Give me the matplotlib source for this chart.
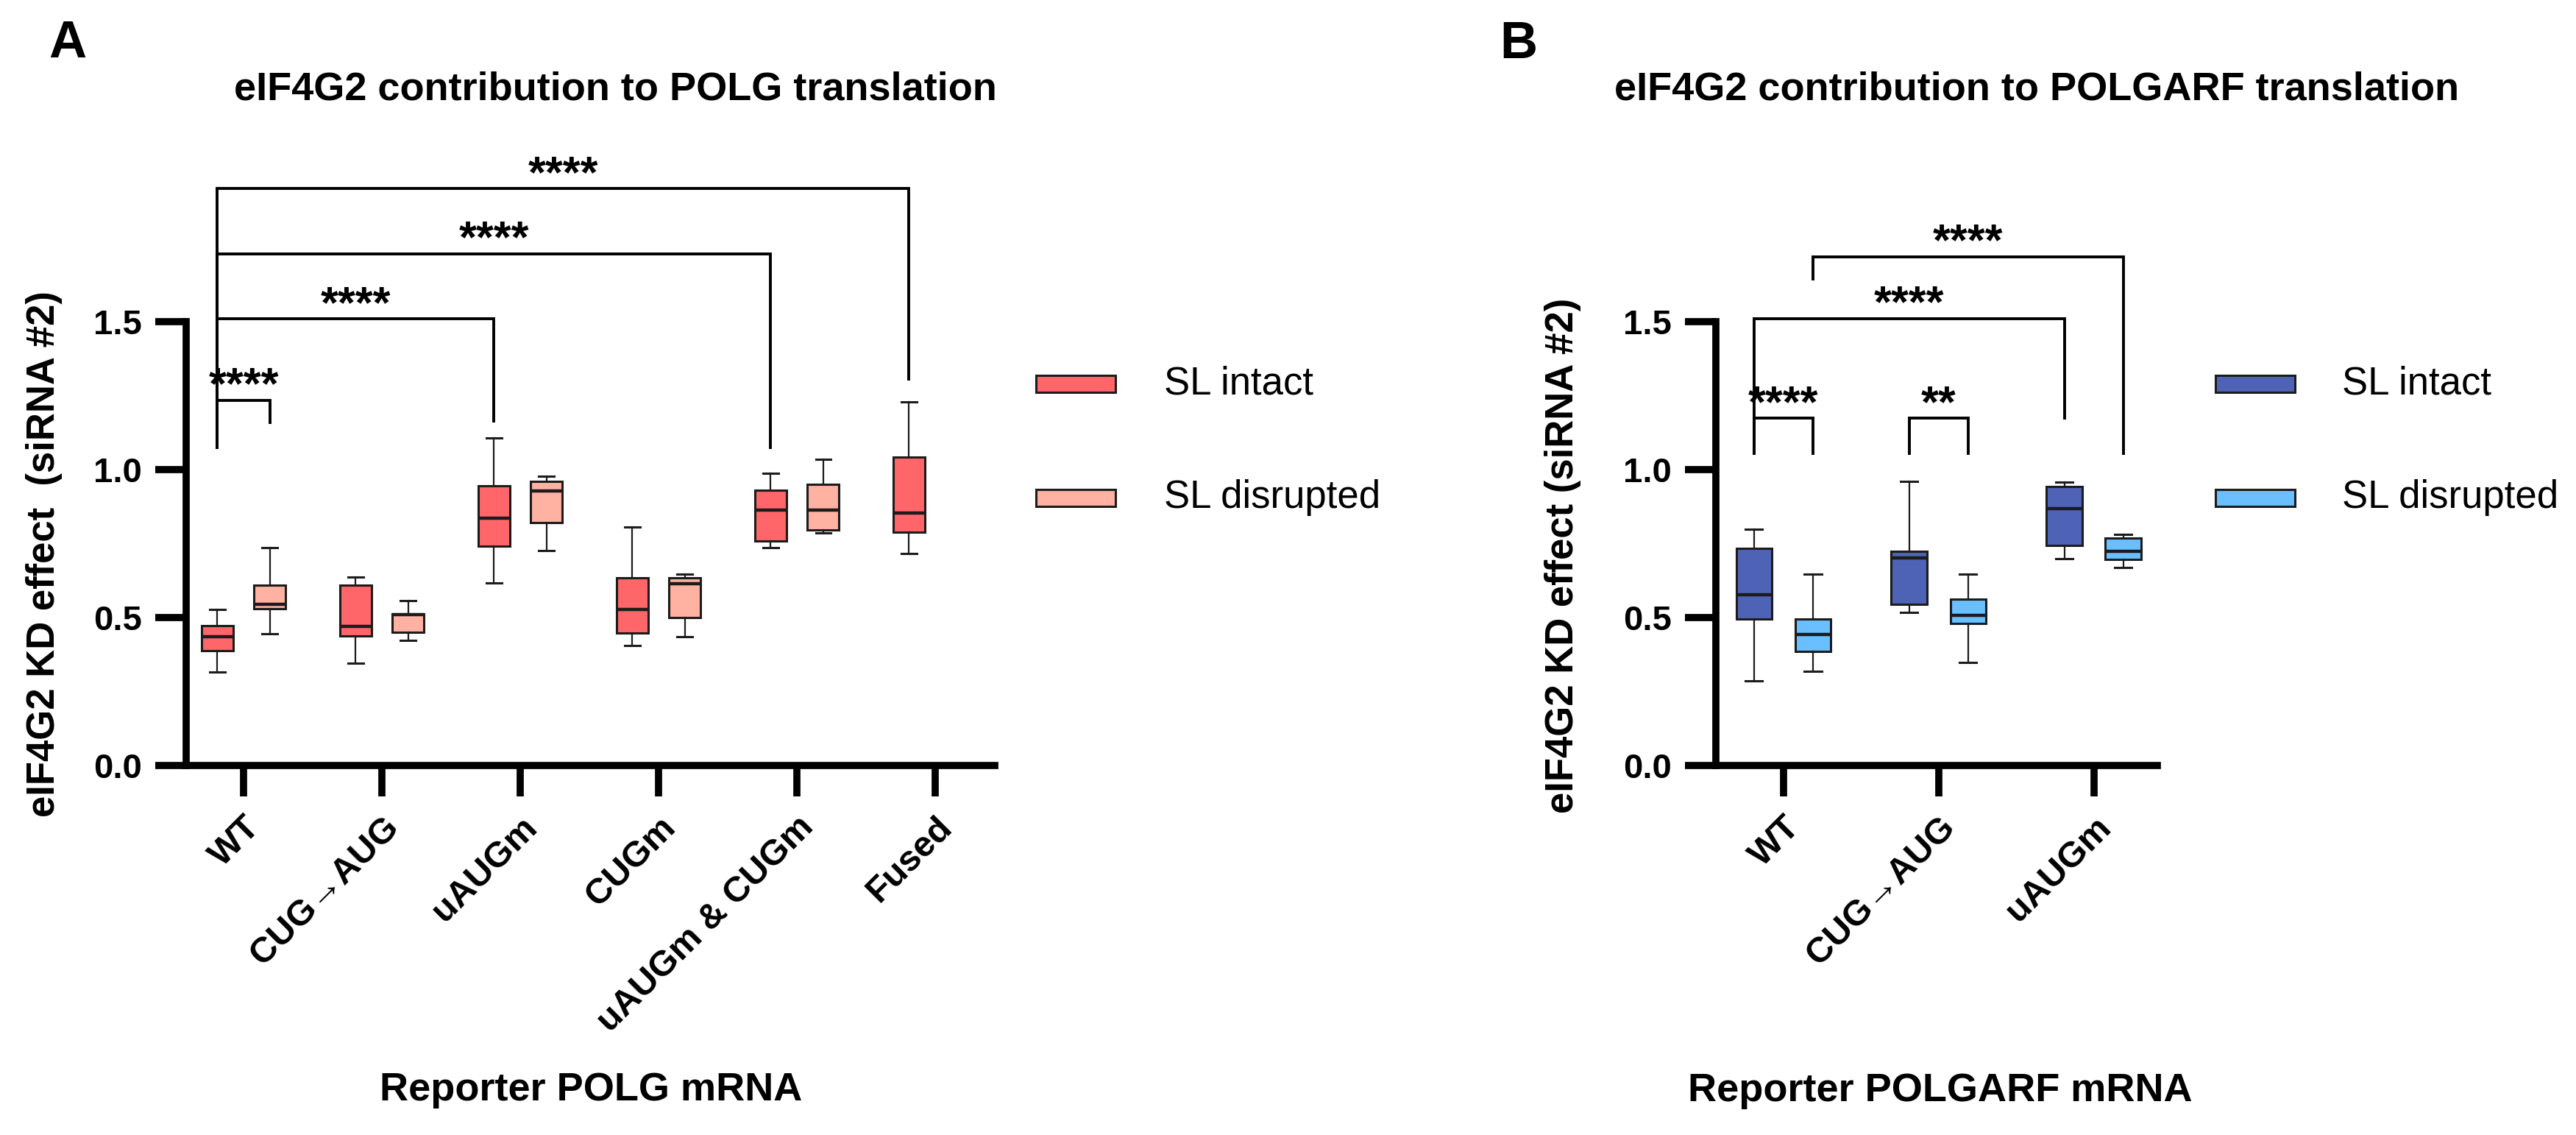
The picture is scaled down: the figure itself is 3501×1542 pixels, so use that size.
import matplotlib
matplotlib.use('Agg')
import matplotlib.pyplot as plt
from matplotlib.patches import Rectangle

plt.rcParams['font.family'] = ['Liberation Sans', 'DejaVu Sans']

# ---- data ----
# each box: (whisker low, q1, median, q3, whisker high)
polg_labels = ['WT', 'CUG→AUG', 'uAUGm', 'CUGm', 'uAUGm & CUGm', 'Fused']
polg_intact = [
    (0.315, 0.388, 0.435, 0.473, 0.527),
    (0.346, 0.439, 0.470, 0.610, 0.637),
    (0.616, 0.741, 0.837, 0.945, 1.107),
    (0.406, 0.449, 0.527, 0.634, 0.806),
    (0.737, 0.759, 0.862, 0.931, 0.988),
    (0.716, 0.788, 0.853, 1.042, 1.229),
]
polg_disrupted = [
    (0.445, 0.531, 0.545, 0.610, 0.737),
    (0.424, 0.451, 0.509, 0.513, 0.556),
    (0.726, 0.820, 0.927, 0.960, 0.978),
    (0.435, 0.500, 0.614, 0.634, 0.647),
    (0.786, 0.796, 0.862, 0.951, 1.036),
    None,
]

polgarf_labels = ['WT', 'CUG→AUG', 'uAUGm']
polgarf_intact = [
    (0.285, 0.496, 0.577, 0.735, 0.798),
    (0.517, 0.545, 0.702, 0.725, 0.960),
    (0.698, 0.744, 0.867, 0.944, 0.958),
]
polgarf_disrupted = [
    (0.318, 0.386, 0.443, 0.496, 0.646),
    (0.348, 0.479, 0.507, 0.561, 0.646),
    (0.668, 0.697, 0.724, 0.769, 0.780),
]

# significance brackets: (left box, right box, bar height, left leg end, right leg end, text)
# box = (category index, -1 intact / +1 disrupted)
polg_brackets = [
    ((0, -1), (0, 1), 1.235, 1.07, 1.155, '****'),
    ((0, -1), (2, -1), 1.51, 1.07, 1.16, '****'),
    ((0, -1), (4, -1), 1.73, 1.07, 1.07, '****'),
    ((0, -1), (5, -1), 1.95, 1.07, 1.30, '****'),
]
polgarf_brackets = [
    ((0, -1), (0, 1), 1.174, 1.05, 1.05, '****'),
    ((1, -1), (1, 1), 1.174, 1.05, 1.05, '**'),
    ((0, -1), (2, -1), 1.511, 1.05, 1.169, '****'),
    ((0, 1), (2, 1), 1.72, 1.64, 1.05, '****'),
]

series_names = ['SL intact', 'SL disrupted']
polg_colors = ['#FF6669', '#FFB1A2']
polgarf_colors = ['#4F63B6', '#69BFFF']

# ---- layout (pixels of the 3501x1542 output) ----
W, H = 3501, 1542
Y0 = 1040          # pixel row of y = 0
PX_UNIT = 402      # pixels per 1.0 on the y axis
YMAX = 2.1
OFFSET = 0.19
BOX_W = 0.23
EDGE = '#1c1c1c'

fig = plt.figure(figsize=(W / 100, H / 100), dpi=100)


def fx(x):
    return x / W


def fy(y):
    return 1 - y / H


def make_axes(left_px, right_px):
    return fig.add_axes([fx(left_px), fy(Y0), (right_px - left_px) / W, YMAX * PX_UNIT / H])


def box_stats(v):
    return dict(whislo=v[0], q1=v[1], med=v[2], q3=v[3], whishi=v[4], fliers=[])


def draw_panel(ax, labels, intact, disrupted, colors, brackets, xlim, dot_span):
    for side, data, color in [(-1, intact, colors[0]), (1, disrupted, colors[1])]:
        idx = [i for i, v in enumerate(data) if v is not None]
        stats = [box_stats(data[i]) for i in idx]
        ax.bxp(stats, positions=[i + side * OFFSET for i in idx], widths=BOX_W,
               patch_artist=True, showfliers=False, manage_ticks=False,
               capwidths=0.11,
               boxprops=dict(facecolor=color, edgecolor=EDGE, linewidth=2.2),
               medianprops=dict(color=EDGE, linewidth=3.2),
               whiskerprops=dict(color=EDGE, linewidth=1.6),
               capprops=dict(color=EDGE, linewidth=2.2))

    # reference line at 1.0
    ax.axhline(1.0, xmin=dot_span[0], xmax=dot_span[1], color='black', lw=5.8,
               linestyle=(0, (0, 2.5)), dash_capstyle='round')

    for (a, b, y, lo_a, lo_b, txt) in brackets:
        x0 = a[0] + a[1] * OFFSET
        x1 = b[0] + b[1] * OFFSET
        ax.plot([x0, x0, x1, x1], [lo_a, y, y, lo_b], color='black', lw=2.8,
                clip_on=False, solid_joinstyle='miter', solid_capstyle='butt')
        ax.text((x0 + x1) / 2, y + 0.005, txt, ha='center', va='baseline',
                fontsize=44, fontweight='bold', clip_on=False)

    ax.set_xlim(*xlim)
    ax.set_ylim(0, YMAX)
    ax.patch.set_alpha(0)
    ax.spines[['top', 'right']].set_visible(False)
    ax.spines['left'].set_bounds(0, 1.5)
    for s in ['left', 'bottom']:
        ax.spines[s].set_linewidth(7)
        ax.spines[s].set_capstyle('projecting')
    ax.set_yticks([0, 0.5, 1.0, 1.5])
    ax.set_yticklabels(['0.0', '0.5', '1.0', '1.5'], fontsize=34, fontweight='bold')
    ax.set_xticks(range(len(labels)))
    ax.set_xticklabels(labels, rotation=45, ha='right', va='top',
                       rotation_mode='anchor', fontsize=35, fontweight='bold')
    ax.tick_params(axis='both', length=30, width=7, direction='out')
    ax.tick_params(axis='y', pad=13)
    ax.tick_params(axis='x', pad=14)


def draw_legend(patch_left, text_left, colors, rows=(521, 676)):
    for name, color, row in zip(series_names, colors, rows):
        fig.add_artist(Rectangle((fx(patch_left), fy(row + 11.5)), 108 / W, 23 / H,
                                 transform=fig.transFigure, facecolor=color,
                                 edgecolor=EDGE, linewidth=2.2))
        fig.text(fx(text_left), fy(row), name, ha='left', va='center', fontsize=38)


# Panel A
axA = make_axes(253, 1352)
draw_panel(axA, polg_labels, polg_intact, polg_disrupted, polg_colors,
           polg_brackets, (-0.415, 5.43), (0.014, 0.984))
draw_legend(1408, 1582, polg_colors)
fig.text(fx(66), fy(78), 'A', fontsize=51, fontweight='bold', ha='left', va='baseline')
fig.text(fx(836), fy(135), 'eIF4G2 contribution to POLG translation',
         fontsize=39, fontweight='bold', ha='center', va='baseline')
fig.text(fx(803), fy(1495), 'Reporter POLG mRNA', fontsize=39, fontweight='bold',
         ha='center', va='baseline')
fig.text(fx(60), fy(753), 'eIF4G2 KD effect  (siRNA #2)', fontsize=38,
         fontweight='bold', rotation=90, ha='center', va='center')

# Panel B
axB = make_axes(2332, 2932)
draw_panel(axB, polgarf_labels, polgarf_intact, polgarf_disrupted, polgarf_colors,
           polgarf_brackets, (-0.436, 2.41), (0.035, 0.99))
draw_legend(3011, 3183, polgarf_colors)
fig.text(fx(2038), fy(79), 'B', fontsize=51, fontweight='bold', ha='left', va='baseline')
fig.text(fx(2768), fy(135), 'eIF4G2 contribution to POLGARF translation',
         fontsize=39, fontweight='bold', ha='center', va='baseline')
fig.text(fx(2637), fy(1496), 'Reporter POLGARF mRNA', fontsize=39, fontweight='bold',
         ha='center', va='baseline')
fig.text(fx(2124), fy(755), 'eIF4G2 KD effect (siRNA #2)', fontsize=38,
         fontweight='bold', rotation=90, ha='center', va='center')

fig.savefig('out.png', dpi=100, facecolor='white')
